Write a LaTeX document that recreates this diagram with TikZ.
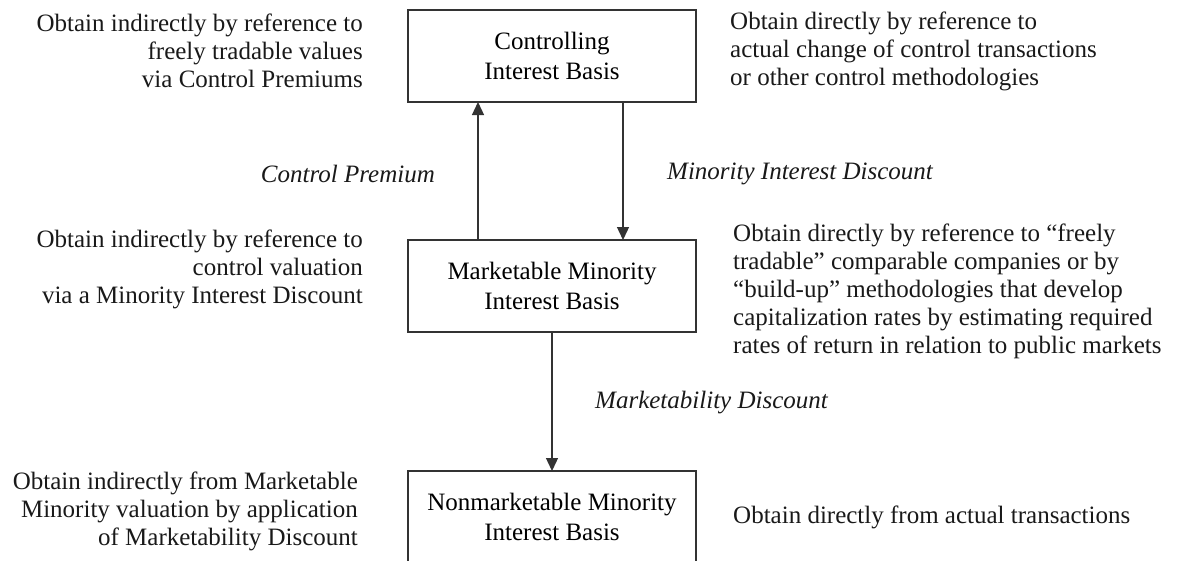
\documentclass[tikz,border=0pt]{standalone}
\usepackage{fontspec}
\setmainfont{Liberation Serif}
\usetikzlibrary{arrows.meta}
\definecolor{ln}{HTML}{333333}
\tikzset{
  basebox/.style={draw=ln, line width=1.3pt, inner sep=0pt, align=center, font=\fontsize{25}{30}\selectfont},
  note/.style={inner sep=0pt, font=\fontsize{25}{28}\selectfont, text=black!90},
  lbl/.style={inner sep=0pt, font=\fontsize{25}{28}\selectfont\itshape, text=black!90},
  conn/.style={draw=ln, line width=1.3pt, -{Triangle[length=13pt,width=12pt]}}
}
\begin{document}
\begin{tikzpicture}[x=1pt,y=-1pt]
\useasboundingbox (0,0) rectangle (1180,560);
% boxes
\node[basebox, minimum width=288pt, minimum height=92pt] (ctrl) at (552,56) {Controlling\\Interest Basis};
\node[basebox, minimum width=288pt, minimum height=92pt] (mkt) at (552,286) {Marketable Minority\\Interest Basis};
\node[basebox, minimum width=288pt, minimum height=92pt] (nonmkt) at (552,517) {Nonmarketable Minority\\Interest Basis};
% connection points
\coordinate (u1) at (478,240);
\coordinate (u2) at (478,102);
\coordinate (d1) at (623,102);
\coordinate (d2) at (623,240);
\coordinate (m1) at (552,332);
\coordinate (m2) at (552,471);
\draw[conn] (u1) -- (u2);
\draw[conn] (d1) -- (d2);
\draw[conn] (m1) -- (m2);
% labels
\node[lbl, anchor=east] (cp) at (435,174) {Control Premium};
\node[lbl, anchor=west] (mid) at (667,174) {Minority Interest Discount};
\node[lbl, anchor=west] (md) at (595,403) {Marketability Discount};
% notes
\node[note, anchor=east, align=right] (n1) at (363,51) {Obtain indirectly by reference to\\freely tradable values\\via Control Premiums};
\node[note, anchor=west, align=left] (n2) at (730,51) {Obtain directly by reference to\\actual change of control transactions\\or other control methodologies};
\node[note, anchor=east, align=right] (n3) at (363,269) {Obtain indirectly by reference to\\control valuation\\via a Minority Interest Discount};
\node[note, anchor=west, align=left] (n4) at (733,291) {Obtain directly by reference to ``freely\\tradable'' comparable companies or by\\``build-up'' methodologies that develop\\capitalization rates by estimating required\\rates of return in relation to public markets};
\node[note, anchor=east, align=right] (n5) at (358,511) {Obtain indirectly from Marketable\\Minority valuation by application\\of Marketability Discount};
\node[note, anchor=west] (n6) at (733,517) {Obtain directly from actual transactions};
\end{tikzpicture}
\end{document}
